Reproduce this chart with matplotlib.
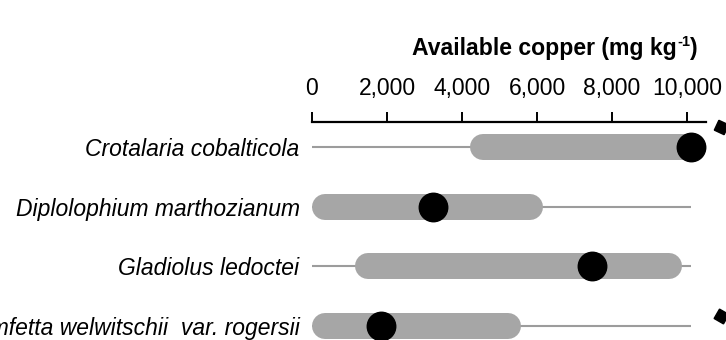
import matplotlib.pyplot as plt
import numpy as np

plt.rcParams['font.family'] = ['Liberation Sans', 'DejaVu Sans']

# data (mg/kg)
species = ['Crotalaria cobalticola', 'Diplolophium marthozianum',
           'Gladiolus ledoctei', 'Triumfetta welwitschii  var. rogersii']
range_lo = [0, 0, 0, 0]
range_hi = [10100, 10100, 10100, 10100]
iqr_lo = [4200, 0, 1150, 0]
iqr_hi = [10480, 6150, 9860, 5560]
median = [10100, 3230, 7460, 1840]
xticks = [0, 2000, 4000, 6000, 8000, 10000]

fig = plt.figure(figsize=(7.26, 3.40), dpi=100)
ax = fig.add_axes([312 / 726, 0, (705.75 - 312) / 726, 1 - 122 / 340])
ax.set_xlim(0, 10500)
ax.set_ylim(3 + 14 / 59.67, -25 / 59.67)

grey = '#a6a6a6'
bar_px = 26
bar_pt = bar_px * 72 / 100
cap = (bar_px / 2) / ((705.75 - 312) / 10500)  # round cap length in data units

y = np.arange(len(species))
for i in range(len(species)):
    ax.plot([range_lo[i], range_hi[i]], [y[i], y[i]], color='#9c9c9c', lw=1.5,
            solid_capstyle='butt', zorder=1)
    ax.plot([iqr_lo[i] + cap, iqr_hi[i] - cap], [y[i], y[i]], color=grey,
            lw=bar_pt, solid_capstyle='round', zorder=2)
ax.plot(median, y, 'o', color='black', ms=20.5, zorder=3)

for s in ['left', 'right', 'bottom']:
    ax.spines[s].set_visible(False)
ax.spines['top'].set_linewidth(1.6)
ax.xaxis.tick_top()
ax.set_xticks(xticks)
ax.set_xticklabels([f'{t:,}' for t in xticks], fontsize=16.5)
ax.tick_params(axis='x', direction='out', length=7, width=1.4, pad=9)
ax.set_yticks(y)
ax.set_yticklabels(species, fontsize=16.5, style='italic')
ax.tick_params(axis='y', length=0, pad=9)

# title with a hyphen superscript, built from pieces
fig.canvas.draw()
r = fig.canvas.get_renderer()
t1 = fig.text(412 / 726, 1 - 49 / 340, 'Available copper (mg kg', fontsize=16.6,
              fontweight='bold', ha='left', va='center')
bb = t1.get_window_extent(r)
t2 = fig.text(bb.x1 / 726 + 0.001, 1 - 42 / 340, '-1', fontsize=10.5,
              fontweight='bold', ha='left', va='center')
bb2 = t2.get_window_extent(r)
fig.text(bb2.x1 / 726, 1 - 49 / 340, ')', fontsize=16.6,
         fontweight='bold', ha='left', va='center')

# arrowheads of the neighbouring panel, cut by the right edge
fig.lines.append(plt.Line2D([721 / 726], [1 - 127 / 340], transform=fig.transFigure,
                            marker=(4, 0, 20), ms=11, color='black', ls='none'))
fig.lines.append(plt.Line2D([721 / 726], [1 - 316 / 340], transform=fig.transFigure,
                            marker=(4, 0, 15), ms=11, color='black', ls='none'))

fig.savefig('out.png', dpi=100)
